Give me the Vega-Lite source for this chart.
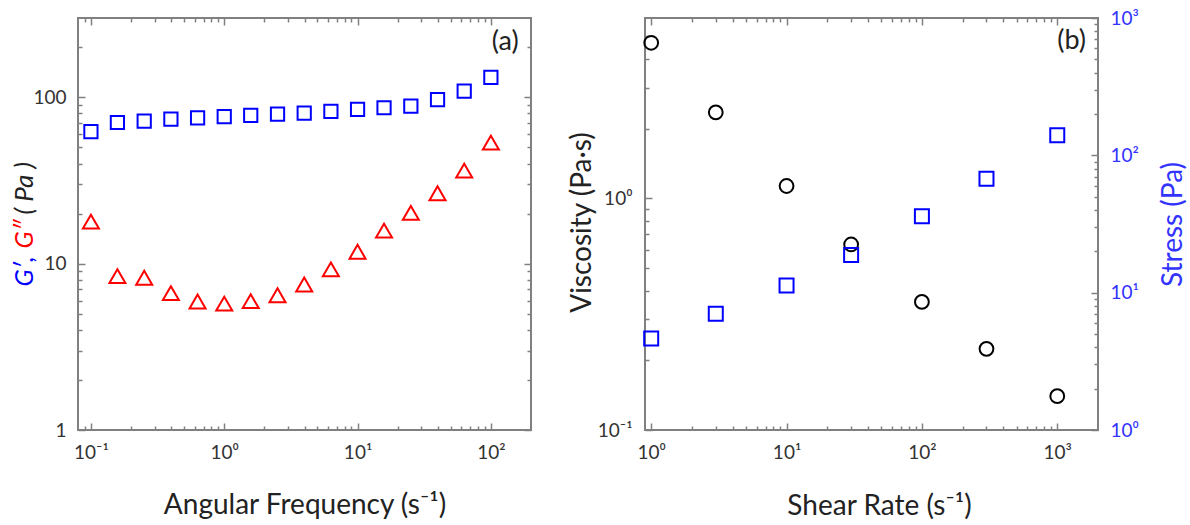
{
  "$schema": "https://vega.github.io/schema/vega-lite/v6.json",
  "background": "white",
  "padding": {"left": 10, "top": 8, "right": 2, "bottom": 4},
  "bounds": "flush",
  "spacing": 114,
  "config": {
    "view": {"stroke": "#808080", "strokeWidth": 2},
    "font": "Lato",
    "axis": {
      "grid": false,
      "domain": false,
      "tickColor": "#808080",
      "tickWidth": 1.5,
      "labelFont": "Lato",
      "labelFontSize": 19,
      "labelColor": "#333333",
      "labelOverlap": false,
      "labelFlush": false,
      "labelBound": false,
      "titleFont": "Lato",
      "titleFontSize": 28,
      "titleFontWeight": "normal",
      "titleColor": "#222222"
    }
  },
  "hconcat": [
    {
      "width": 453,
      "height": 412,
      "data": {
        "values": [
          {"freq": 0.1, "Gp": 62.3, "Gpp": 17.9},
          {"freq": 0.158, "Gp": 70.6, "Gpp": 8.42},
          {"freq": 0.251, "Gp": 71.9, "Gpp": 8.23},
          {"freq": 0.398, "Gp": 74.0, "Gpp": 6.65},
          {"freq": 0.631, "Gp": 75.3, "Gpp": 5.92},
          {"freq": 1, "Gp": 76.7, "Gpp": 5.75},
          {"freq": 1.58, "Gp": 77.8, "Gpp": 5.95},
          {"freq": 2.51, "Gp": 79.3, "Gpp": 6.46},
          {"freq": 3.98, "Gp": 80.4, "Gpp": 7.5},
          {"freq": 6.31, "Gp": 82.3, "Gpp": 9.24},
          {"freq": 10, "Gp": 84.6, "Gpp": 11.8},
          {"freq": 15.8, "Gp": 86.6, "Gpp": 15.8},
          {"freq": 25.1, "Gp": 88.6, "Gpp": 20.2},
          {"freq": 39.8, "Gp": 96.8, "Gpp": 26.5},
          {"freq": 63.1, "Gp": 109, "Gpp": 36.3},
          {"freq": 100, "Gp": 132, "Gpp": 53.4}
        ]
      },
      "resolve": {"axis": {"x": "independent", "y": "independent"}},
      "layer": [
        {
          "mark": {"type": "point", "shape": "square", "filled": false, "color": "#0000ff", "strokeWidth": 2, "size": 175, "opacity": 1},
          "encoding": {
            "x": {
              "field": "freq", "type": "quantitative",
              "scale": {"type": "log", "domain": [0.08, 200], "nice": false},
              "axis": {
                "orient": "bottom",
                "values": [0.09, 0.1, 0.2, 0.3, 0.4, 0.5, 0.6, 0.7, 0.8, 0.9, 1, 2, 3, 4, 5, 6, 7, 8, 9, 10, 20, 30, 40, 50, 60, 70, 80, 90, 100],
                "labelExpr": "datum.value == 0.1 ? '10⁻¹' : datum.value == 1 ? '10⁰' : datum.value == 10 ? '10¹' : datum.value == 100 ? '10²' : ''",
                "tickSize": {"condition": {"test": "abs(log(datum.value)/LN10 - round(log(datum.value)/LN10)) < 0.001", "value": -7}, "value": -4},
                "labelPadding": 35,
                "labelBaseline": "alphabetic",
                "title": "Angular Frequency (s⁻¹)",
                "titleY": 83,
                "titleBaseline": "alphabetic"
              }
            },
            "y": {
              "field": "Gp", "type": "quantitative",
              "scale": {"type": "log", "domain": [1, 300], "nice": false},
              "axis": {
                "orient": "left",
                "values": [1, 2, 3, 4, 5, 6, 7, 8, 9, 10, 20, 30, 40, 50, 60, 70, 80, 90, 100, 200],
                "labelExpr": "datum.value == 1 ? '1' : datum.value == 10 ? '10' : datum.value == 100 ? '100' : ''",
                "tickSize": {"condition": {"test": "abs(log(datum.value)/LN10 - round(log(datum.value)/LN10)) < 0.001", "value": -7}, "value": -4},
                "labelPadding": 19,
                "title": "( Pa )",
                "titleFontSize": 26,
                "titleFontStyle": "italic",
                "titleAngle": 270,
                "titleAlign": "left",
                "titleBaseline": "alphabetic",
                "titleX": -46,
                "titleY": 196
              }
            }
          }
        },
        {
          "mark": {"type": "point", "shape": "triangle-up", "filled": false, "color": "#ff0000", "strokeWidth": 2, "size": 256, "opacity": 1},
          "encoding": {
            "x": {
              "field": "freq", "type": "quantitative",
              "scale": {"type": "log", "domain": [0.08, 200], "nice": false},
              "axis": {
                "orient": "top",
                "values": [0.09, 0.1, 0.2, 0.3, 0.4, 0.5, 0.6, 0.7, 0.8, 0.9, 1, 2, 3, 4, 5, 6, 7, 8, 9, 10, 20, 30, 40, 50, 60, 70, 80, 90, 100],
                "labels": false,
                "tickSize": {"condition": {"test": "abs(log(datum.value)/LN10 - round(log(datum.value)/LN10)) < 0.001", "value": -7}, "value": -4},
                "title": "G″",
                "titleFontSize": 25,
                "titleColor": "#ff0000",
                "titleFontStyle": "italic",
                "titleAngle": 270,
                "titleAlign": "left",
                "titleBaseline": "alphabetic",
                "titleX": -46,
                "titleY": 230
              }
            },
            "y": {
              "field": "Gpp", "type": "quantitative",
              "scale": {"type": "log", "domain": [1, 300], "nice": false},
              "axis": {
                "orient": "right",
                "values": [1, 2, 3, 4, 5, 6, 7, 8, 9, 10, 20, 30, 40, 50, 60, 70, 80, 90, 100, 200],
                "labels": false,
                "tickSize": {"condition": {"test": "abs(log(datum.value)/LN10 - round(log(datum.value)/LN10)) < 0.001", "value": -7}, "value": -4},
                "title": null
              }
            }
          }
        },
        {
          "data": {"values": [{"label": "(a)"}]},
          "mark": {"type": "text", "fontSize": 27, "font": "Lato", "color": "#222222", "align": "center", "baseline": "middle"},
          "encoding": {
            "text": {"field": "label"},
            "x": {"datum": 128, "type": "quantitative", "scale": {"type": "log", "domain": [0.08, 200], "nice": false}, "axis": null},
            "y": {
              "datum": 215, "type": "quantitative",
              "scale": {"type": "log", "domain": [1, 300], "nice": false},
              "axis": {
                "orient": "left",
                "labels": false,
                "ticks": false,
                "title": "G′,",
                "titleFontSize": 25,
                "titleColor": "#0000ff",
                "titleFontStyle": "italic",
                "titleAngle": 270,
                "titleAlign": "left",
                "titleBaseline": "alphabetic",
                "titleX": -46,
                "titleY": 268
              }
            }
          }
        }
      ]
    },
    {
      "width": 453,
      "height": 412,
      "data": {
        "values": [
          {"rate": 1, "viscosity": 4.69, "stress": 4.63},
          {"rate": 3, "viscosity": 2.35, "stress": 7.02},
          {"rate": 10, "viscosity": 1.13, "stress": 11.3},
          {"rate": 30, "viscosity": 0.632, "stress": 18.8},
          {"rate": 100, "viscosity": 0.357, "stress": 36.0},
          {"rate": 300, "viscosity": 0.224, "stress": 67.5},
          {"rate": 1000, "viscosity": 0.14, "stress": 140}
        ]
      },
      "resolve": {"scale": {"y": "independent"}, "axis": {"x": "independent", "y": "independent"}},
      "layer": [
        {
          "mark": {"type": "point", "shape": "circle", "filled": false, "color": "#000000", "strokeWidth": 2, "size": 190, "opacity": 1},
          "encoding": {
            "x": {
              "field": "rate", "type": "quantitative",
              "scale": {"type": "log", "domain": [0.9, 2000], "nice": false},
              "axis": {
                "orient": "bottom",
                "values": [1, 2, 3, 4, 5, 6, 7, 8, 9, 10, 20, 30, 40, 50, 60, 70, 80, 90, 100, 200, 300, 400, 500, 600, 700, 800, 900, 1000],
                "labelExpr": "datum.value == 1 ? '10⁰' : datum.value == 10 ? '10¹' : datum.value == 100 ? '10²' : datum.value == 1000 ? '10³' : ''",
                "tickSize": {"condition": {"test": "abs(log(datum.value)/LN10 - round(log(datum.value)/LN10)) < 0.001", "value": -7}, "value": -4},
                "labelPadding": 35,
                "labelBaseline": "alphabetic",
                "title": "Shear Rate (s⁻¹)",
                "titleX": 234,
                "titleY": 84,
                "titleBaseline": "alphabetic"
              }
            },
            "y": {
              "field": "viscosity", "type": "quantitative",
              "scale": {"type": "log", "domain": [0.1, 6], "nice": false},
              "axis": {
                "orient": "left",
                "values": [0.1, 0.2, 0.3, 0.4, 0.5, 0.6, 0.7, 0.8, 0.9, 1, 2, 3, 4, 5],
                "labelExpr": "datum.value == 0.1 ? '10⁻¹' : datum.value == 1 ? '10⁰' : ''",
                "tickSize": {"condition": {"test": "abs(log(datum.value)/LN10 - round(log(datum.value)/LN10)) < 0.001", "value": -7}, "value": -4},
                "labelPadding": 20,
                "title": "Viscosity (Pa·s)",
                "titleAngle": 270,
                "titleAlign": "center",
                "titleBaseline": "alphabetic",
                "titleX": -55,
                "titleY": 204
              }
            }
          }
        },
        {
          "mark": {"type": "point", "shape": "square", "filled": false, "color": "#0000ff", "strokeWidth": 2, "size": 196, "opacity": 1},
          "encoding": {
            "x": {
              "field": "rate", "type": "quantitative",
              "scale": {"type": "log", "domain": [0.9, 2000], "nice": false},
              "axis": {
                "orient": "top",
                "values": [1, 2, 3, 4, 5, 6, 7, 8, 9, 10, 20, 30, 40, 50, 60, 70, 80, 90, 100, 200, 300, 400, 500, 600, 700, 800, 900, 1000],
                "labels": false,
                "tickSize": {"condition": {"test": "abs(log(datum.value)/LN10 - round(log(datum.value)/LN10)) < 0.001", "value": -7}, "value": -4},
                "title": null
              }
            },
            "y": {
              "field": "stress", "type": "quantitative",
              "scale": {"type": "log", "domain": [1, 1000], "nice": false},
              "axis": {
                "orient": "right",
                "values": [1, 2, 3, 4, 5, 6, 7, 8, 9, 10, 20, 30, 40, 50, 60, 70, 80, 90, 100, 200, 300, 400, 500, 600, 700, 800, 900, 1000],
                "labelExpr": "datum.value == 1 ? '10⁰' : datum.value == 10 ? '10¹' : datum.value == 100 ? '10²' : datum.value == 1000 ? '10³' : ''",
                "labelColor": "#3333ff",
                "tickSize": {"condition": {"test": "abs(log(datum.value)/LN10 - round(log(datum.value)/LN10)) < 0.001", "value": -7}, "value": -4},
                "labelPadding": 19,
                "title": "Stress (Pa)",
                "titleColor": "#3333ff",
                "titleAngle": 270,
                "titleAlign": "center",
                "titleBaseline": "alphabetic",
                "titleX": 83,
                "titleY": 206
              }
            }
          }
        },
        {
          "data": {"values": [{"label": "(b)"}]},
          "mark": {"type": "text", "fontSize": 27, "font": "Lato", "color": "#222222", "align": "center", "baseline": "middle"},
          "encoding": {
            "text": {"field": "label"},
            "x": {"datum": 1276, "type": "quantitative", "scale": {"type": "log", "domain": [0.9, 2000], "nice": false}, "axis": null},
            "y": {"datum": 4.76, "type": "quantitative", "scale": {"type": "log", "domain": [0.1, 6], "nice": false}, "axis": null}
          }
        }
      ]
    }
  ]
}
